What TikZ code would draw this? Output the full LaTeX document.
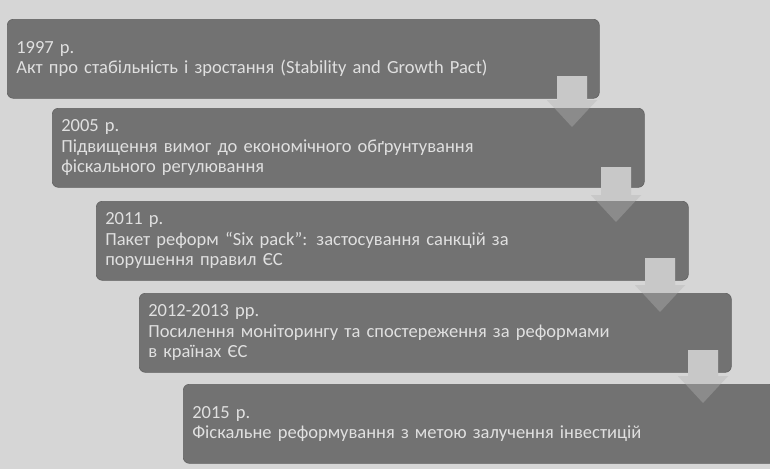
\documentclass[tikz,border=0pt]{standalone}
\usepackage{fontspec}
\setmainfont{Carlito}
\usetikzlibrary{calc}
\definecolor{bg}{HTML}{D6D6D6}
\definecolor{boxgray}{HTML}{727272}
\definecolor{arrowgray}{HTML}{C8C8C8}
\definecolor{txtgray}{HTML}{E0E0E0}
\newcommand{\steparrowshape}[3]{%
  \path[#3] let \p1=(#1), \p2=(#2) in
    (\x1-15pt,\y1) -- (\x1+15pt,\y1) -- (\x1+15pt,\y2+27pt) -- (\x1+25pt,\y2+27pt)
    -- (\x1,\y2) -- (\x1-25pt,\y2+27pt) -- (\x1-15pt,\y2+27pt) -- cycle;}
\begin{document}
\begin{tikzpicture}[x=1pt,y=-1pt,
  stepbox/.style={fill=boxgray, draw=boxgray!85!black, line width=0.6pt, rounded corners=6pt,
    minimum width=592pt, minimum height=79pt, text width=574pt, inner xsep=9pt, inner ysep=3pt,
    align=left, anchor=north west, text=txtgray, font=\fontsize{18.5}{20.5}\selectfont},
  arrowbody/.style={fill=arrowgray},
  arrowover/.style={fill=arrowgray, fill opacity=0.3}]
\clip (0,0) rectangle (770,469);
\fill[bg] (0,0) rectangle (770,469);
% arrow coordinates
\coordinate (t1) at (572,76);  \coordinate (h1) at (572,127);
\coordinate (t2) at (616,167); \coordinate (h2) at (616,222);
\coordinate (t3) at (660,258); \coordinate (h3) at (660,312);
\coordinate (t4) at (703,350); \coordinate (h4) at (703,403);
% boxes and arrows
\node[stepbox] (b1) at (7,19) {1997 р.\\Акт про стабільність і зростання (Stability and Growth Pact)};
\steparrowshape{t1}{h1}{arrowbody}
\node[stepbox] (b2) at (52,108) {2005 р.\\Підвищення вимог до економічного обґрунтування\\фіскального регулювання};
\steparrowshape{t1}{h1}{arrowover}
\steparrowshape{t2}{h2}{arrowbody}
\node[stepbox] (b3) at (96,201) {2011 р.\\Пакет реформ “Six pack”: застосування санкцій за\\порушення правил ЄС};
\steparrowshape{t2}{h2}{arrowover}
\steparrowshape{t3}{h3}{arrowbody}
\node[stepbox] (b4) at (139,293) {2012-2013 рр.\\Посилення моніторингу та спостереження за реформами\\в країнах ЄС};
\steparrowshape{t3}{h3}{arrowover}
\steparrowshape{t4}{h4}{arrowbody}
\node[stepbox] (b5) at (183,384) {2015 р.\\Фіскальне реформування з метою залучення інвестицій};
\steparrowshape{t4}{h4}{arrowover}
\end{tikzpicture}
\end{document}
